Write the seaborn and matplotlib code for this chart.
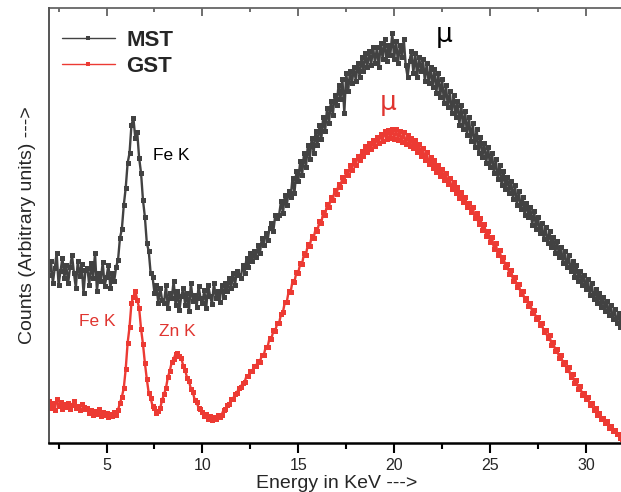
import numpy as np
import pandas as pd
import matplotlib
matplotlib.use("Agg")
import matplotlib.pyplot as plt
import seaborn as sns

# energy grid (keV), one channel every 0.1 keV from 2.0 to 31.9
energy = np.round(np.arange(2.0, 32.0, 0.1), 1)

# MST counts (arbitrary units), one row per keV
mst_counts = [
    168, 182, 160, 175, 190, 158, 172, 185, 165, 178,
    160, 176, 188, 170, 155, 182, 167, 179, 150, 173,
    175, 158, 180, 165, 190, 152, 170, 162, 181, 157,
    166, 178, 155, 170, 162, 176, 183, 205, 214, 238,
    255, 280, 290, 318, 325, 305, 311, 285, 270, 243,
    226, 200, 192, 170, 166, 150, 158, 140, 155, 143,
    140, 158, 135, 150, 145, 162, 138, 152, 133, 147,
    155, 138, 150, 132, 160, 142, 148, 136, 157, 145,
    140, 153, 135, 158, 147, 139, 160, 145, 152, 141,
    158, 146, 160, 152, 165, 155, 170, 158, 172, 168,
    165, 178, 170, 185, 176, 190, 182, 192, 186, 198,
    190, 205, 198, 210, 203, 215, 220, 212, 228, 225,
    228, 242, 230, 248, 238, 252, 246, 265, 250, 272,
    262, 282, 268, 290, 276, 298, 284, 305, 290, 312,
    298, 318, 304, 326, 312, 335, 320, 342, 328, 348,
    338, 358, 344, 364, 330, 370, 352, 372, 360, 376,
    362, 380, 366, 386, 372, 390, 376, 392, 378, 396,
    380, 396, 376, 400, 384, 404, 382, 398, 388, 410,
    384, 402, 380, 398, 386, 404, 378, 366, 382, 392,
    370, 390, 366, 386, 372, 384, 362, 380, 360, 376,
    356, 374, 350, 370, 346, 364, 340, 358, 336, 352,
    330, 348, 326, 342, 318, 338, 314, 332, 308, 326,
    302, 320, 296, 314, 290, 306, 286, 300, 280, 296,
    276, 290, 270, 284, 264, 278, 258, 272, 254, 266,
    250, 262, 244, 258, 238, 252, 234, 246, 228, 240,
    226, 236, 218, 232, 214, 226, 210, 220, 204, 216,
    200, 212, 196, 206, 190, 202, 186, 196, 180, 192,
    176, 188, 172, 182, 166, 178, 162, 172, 158, 168,
    154, 164, 148, 160, 144, 154, 140, 150, 136, 146,
    132, 142, 128, 138, 124, 134, 120, 130, 116, 126,
]

# GST counts (arbitrary units), one row per keV
gst_counts = [
    42, 35, 40, 33, 44, 37, 41, 34, 39, 36,
    40, 34, 38, 42, 35, 37, 33, 39, 36, 34,
    35, 30, 33, 28, 32, 29, 34, 27, 31, 28,
    30, 26, 29, 27, 31, 28, 33, 40, 46, 55,
    74, 100, 116, 140, 146, 152, 143, 135, 114, 99,
    80, 64, 50, 45, 37, 35, 30, 32, 35, 43,
    49, 55, 66, 72, 81, 84, 89, 90, 87, 85,
    77, 73, 65, 62, 54, 51, 43, 41, 35, 34,
    31, 27, 29, 24, 27, 23, 26, 24, 28, 26,
    28, 33, 34, 38, 39, 44, 44, 49, 50, 55,
    56, 60, 61, 67, 67, 72, 72, 77, 77, 82,
    81, 88, 88, 96, 96, 105, 104, 113, 112, 120,
    120, 129, 131, 141, 141, 152, 151, 162, 161, 171,
    170, 180, 179, 190, 188, 199, 197, 207, 205, 214,
    212, 222, 220, 231, 228, 239, 236, 246, 243, 253,
    249, 259, 256, 266, 262, 272, 268, 278, 273, 283,
    278, 287, 283, 292, 287, 297, 291, 300, 294, 303,
    297, 306, 300, 309, 302, 312, 304, 313, 305, 314,
    304, 314, 303, 312, 301, 311, 299, 308, 297, 305,
    295, 303, 291, 299, 287, 295, 283, 291, 279, 286,
    275, 283, 271, 278, 267, 274, 263, 270, 259, 265,
    254, 261, 250, 256, 245, 251, 241, 246, 236, 240,
    231, 236, 225, 230, 219, 225, 213, 219, 207, 212,
    201, 206, 194, 200, 188, 193, 182, 186, 176, 179,
    169, 173, 162, 166, 156, 159, 149, 152, 143, 145,
    137, 140, 130, 133, 124, 126, 118, 120, 111, 113,
    105, 108, 98, 101, 92, 94, 85, 88, 79, 81,
    73, 76, 66, 69, 60, 63, 54, 57, 48, 50,
    44, 46, 38, 40, 33, 35, 28, 30, 24, 25,
    20, 22, 15, 17, 12, 13, 9, 9, 5, 4,
]

series_names = ["MST", "GST"]
series_colors = ["#424242", "#ec3a33"]

# peak labels: (text, energy, counts, colour index)
peak_labels = [
    ("Fe K", 8.4, 287, 0),
    ("Fe K", 4.5, 121, 1),
    ("Zn K", 8.7, 112, 1),
]
mu_labels = [
    ("\u03bc", 22.6, 408, 0),
    ("\u03bc", 19.7, 340, 1),
]

sns.set_style("white")
plt.rcParams["font.family"] = ["Liberation Sans", "DejaVu Sans"]

fig = plt.figure(figsize=(6.21, 4.92), dpi=100)
ax = fig.add_axes([49 / 621, 49 / 492, 575.3 / 621, 435 / 492])

# draw both spectra as connected dots
for name, counts, color in zip(series_names, [mst_counts, gst_counts], series_colors):
    df = pd.DataFrame({"energy": energy, "counts": counts})
    sns.lineplot(data=df, x="energy", y="counts", ax=ax, color=color,
                 linewidth=1.7, marker="s", markersize=3.6, markeredgewidth=0,
                 label=name)

for text, x, y, ci in peak_labels:
    ax.text(x, y, text, color="black" if ci == 0 else "#e03530",
            fontsize=12.5, ha="center", va="center")
for text, x, y, ci in mu_labels:
    ax.text(x, y, text, color="black" if ci == 0 else "#e03530",
            fontsize=19, ha="center", va="center", family="DejaVu Sans")

ax.set_xlim(2, 32)
ax.set_ylim(0, 435)
ax.set_yticks([])
ax.set_xticks([5, 10, 15, 20, 25, 30])
ax.set_xticks(np.arange(2.5, 32, 5), minor=True)
ax.tick_params(axis="x", which="major", bottom=True, direction="out", length=7,
               width=1.5, labelsize=11.5, pad=4, color="black")
ax.tick_params(axis="x", which="minor", bottom=True, direction="out", length=4,
               width=1.5, color="black")

# ticks pointing inward on the top edge
top = ax.secondary_xaxis("top")
top.set_xticks([5, 10, 15, 20, 25, 30])
top.set_xticks(np.arange(2.5, 32, 5), minor=True)
top.tick_params(axis="x", which="major", top=True, direction="in", length=6,
                width=1.2, labeltop=False, color="#555555")
top.tick_params(axis="x", which="minor", top=True, direction="in", length=3,
                width=1.2, color="#555555")
top.spines["top"].set_color("#666666")
top.spines["top"].set_linewidth(1.3)

ax.spines["bottom"].set_color("black")
ax.spines["bottom"].set_linewidth(1.8)
ax.spines["left"].set_color("#555555")
ax.spines["left"].set_linewidth(1.4)
ax.spines["top"].set_visible(False)
ax.spines["right"].set_visible(False)

ax.set_xlabel("Energy in KeV --->", fontsize=14, labelpad=1)
ax.set_ylabel("Counts (Arbitrary units) --->", fontsize=14, labelpad=9)

leg = ax.legend(loc="upper left", bbox_to_anchor=(-0.005, 0.985), frameon=False,
                prop={"weight": "bold", "size": 16}, handlelength=2.4,
                handletextpad=0.5, labelspacing=0.2, borderaxespad=0.3)
for line in leg.get_lines():
    line.set_linewidth(1.0)
    line.set_markersize(3)

fig.savefig("out.png", dpi=100)
